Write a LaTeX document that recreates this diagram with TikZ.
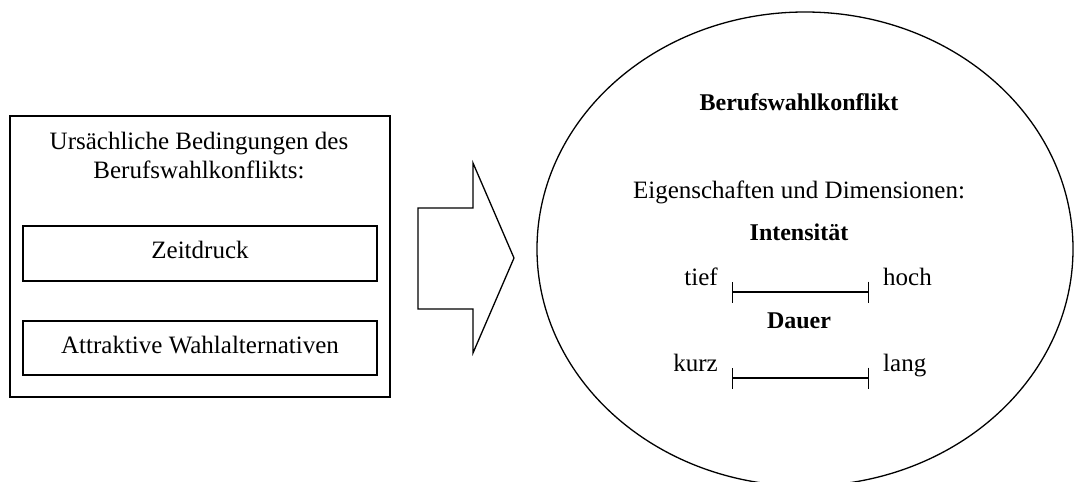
\documentclass[tikz,border=0pt]{standalone}
\usepackage{fontspec}
\setmainfont{Liberation Serif}
\usetikzlibrary{shapes.geometric,arrows.meta}
\begin{document}
\begin{tikzpicture}[x=1pt,y=-1pt,
  txt/.style={font=\fontsize{25}{30}\selectfont, inner sep=0pt, anchor=base},
  head/.style={txt, font=\fontsize{24}{30}\bfseries},
  frame/.style={draw, line width=1.6pt, inner sep=0pt},
  thin/.style={line width=1.3pt},
  scalebar/.style={line width=1.4pt,
    {Bar[width=21pt,line width=1.4pt]}-{Bar[width=21pt,line width=1.4pt]}}
]
\useasboundingbox (0,0) rectangle (1074,482);
\clip (0,0) rectangle (1074,482);

% causal conditions
\node[frame, minimum width=380pt, minimum height=281pt] (outer) at (200,256.5) {};
\node[txt] (cause1) at (199,149) {Ursächliche Bedingungen des};
\node[txt] (cause2) at (199,178) {Berufswahlkonflikts:};
\node[frame, minimum width=354pt, minimum height=55pt] (zeit) at (200,253.5) {};
\node[txt] (zeitlbl) at (200,258) {Zeitdruck};
\node[frame, minimum width=354pt, minimum height=54pt] (attr) at (200,348) {};
\node[txt] (attrlbl) at (200,353) {Attraktive Wahlalternativen};

% block arrow
\draw[thin, line join=miter] (418,208) -- (473,208) -- (473,163) -- (514,258)
  -- (473,353) -- (473,309) -- (418,309) -- cycle;

% phenomenon
\node[draw, ellipse, thin, inner sep=0pt, minimum width=536pt, minimum height=474pt]
  (conflict) at (805,249) {};
\node[head] (title) at (799,110) {Berufswahlkonflikt};
\node[txt] (props) at (799,198) {Eigenschaften und Dimensionen:};
\node[head] (intens) at (799,240) {Intensität};
\node[txt, anchor=base east] (tief) at (718,285) {tief};
\node[txt, anchor=base west] (hoch) at (883,285) {hoch};
\coordinate (i-l) at (732,292);
\coordinate (i-r) at (869,292);
\draw[scalebar] (i-l) -- (i-r);
\node[head] (dauer) at (799,328) {Dauer};
\node[txt, anchor=base east] (kurz) at (718,371) {kurz};
\node[txt, anchor=base west] (lang) at (883,371) {lang};
\coordinate (d-l) at (732,378);
\coordinate (d-r) at (869,378);
\draw[scalebar] (d-l) -- (d-r);
\end{tikzpicture}
\end{document}
